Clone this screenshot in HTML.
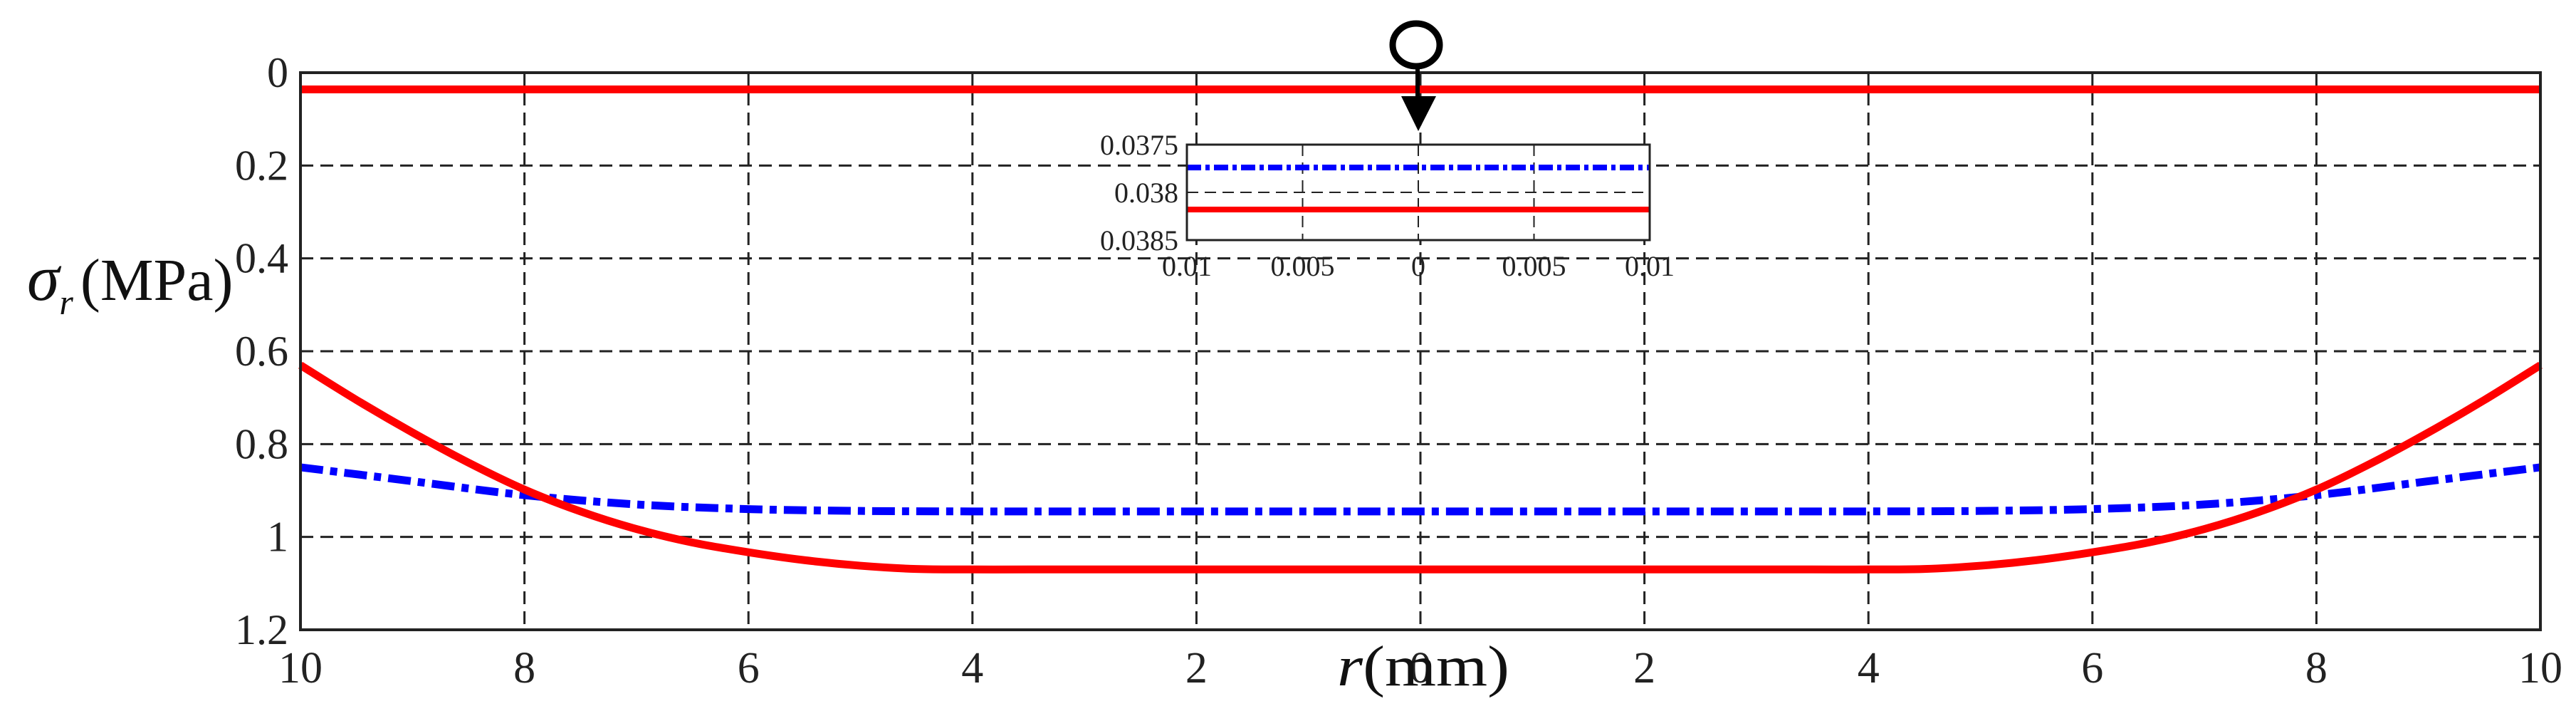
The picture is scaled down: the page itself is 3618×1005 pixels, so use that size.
<!DOCTYPE html>
<html><head><meta charset="utf-8"><style>
html,body{margin:0;padding:0;background:#fff;}
svg{display:block;font-family:"Liberation Serif",serif;}
</style></head><body>
<svg id="chart" width="3618" height="1005" viewBox="0 0 3618 1005" xmlns="http://www.w3.org/2000/svg">
<g id="grid"></g>
<g id="series"></g>
<rect x="422" y="102" width="3146" height="782" fill="none" stroke="#222" stroke-width="4"/>
<g id="ticks"></g>
<text x="38" y="421" font-size="84" fill="#111"><tspan font-style="italic" font-size="92">σ</tspan><tspan font-style="italic" font-size="50" dy="20">r</tspan><tspan dy="-20" dx="10">(MPa)</tspan></text>
<text x="1878" y="962" font-size="80" textLength="242" lengthAdjust="spacingAndGlyphs" fill="#111"><tspan font-style="italic">r</tspan>(mm)</text>
<g>
<ellipse cx="1989" cy="63" rx="33" ry="30" fill="none" stroke="#000" stroke-width="9"/>
<line x1="1991" y1="93" x2="1991" y2="140" stroke="#000" stroke-width="6"/>
<polygon points="1968,135 2017,135 1992,184" fill="#000"/>
</g>
<g id="inset"></g>
</svg>
<script>
const NS="http://www.w3.org/2000/svg";
const xTicks=[-10,-8,-6,-4,-2,0,2,4,6,8,10];
const xTickLabels=["10","8","6","4","2","0","2","4","6","8","10"];
const yTicks=[0,0.2,0.4,0.6,0.8,1,1.2];
const yTickLabels=["0","0.2","0.4","0.6","0.8","1","1.2"];
const redR=[0,0.5,1,1.5,2,2.5,3,3.5,4,4.5,5,5.5,6,6.5,7,7.5,8,8.5,9,9.5,10];
const redV=[1.07,1.07,1.07,1.07,1.07,1.07,1.07,1.07,1.07,1.069,1.062,1.05,1.033,1.012,0.983,0.945,0.898,0.84,0.775,0.705,0.63];
const blueR=[0,1,2,3,4,5,6,7,8,9,10];
const blueV=[0.945,0.945,0.945,0.945,0.945,0.944,0.94,0.93,0.91,0.88,0.85];
const topRedV=0.036;
const insetXTicks=[-0.01,-0.005,0,0.005,0.01];
const insetXLabels=["0.01","0.005","0","0.005","0.01"];
const insetYTicks=[0.0375,0.038,0.0385];
const insetYLabels=["0.0375","0.038","0.0385"];
const insetBlue=0.03774, insetRed=0.03818;

const X0=422,X1=3568,Y0=102,Y1=884;
const sx=v=>X0+(v+10)/20*(X1-X0);
const sy=v=>Y0+v/1.2*(Y1-Y0);
function mk(tag,attrs,parent){const e=document.createElementNS(NS,tag);for(const k in attrs)e.setAttribute(k,attrs[k]);parent.appendChild(e);return e;}
const grid=document.getElementById('grid'),ticks=document.getElementById('ticks'),series=document.getElementById('series');
xTicks.forEach((t,i)=>{
 if(i>0&&i<xTicks.length-1){const l=mk('line',{x1:sx(t),x2:sx(t),y1:Y0,y2:Y1,stroke:'#222','stroke-width':3,'stroke-dasharray':'18,10'},grid);
 
 }
 const tx=mk('text',{x:sx(t),y:958,'font-size':62,'text-anchor':'middle',fill:'#222'},ticks);tx.textContent=xTickLabels[i];
 
 
});
yTicks.forEach((t,i)=>{
 if(i>0&&i<yTicks.length-1){const l=mk('line',{x1:X0,x2:X1,y1:sy(t),y2:sy(t),stroke:'#222','stroke-width':3,'stroke-dasharray':'18,10'},grid);
 
 }
 const tx=mk('text',{x:405,y:sy(t)+20,'font-size':60,'text-anchor':'end',fill:'#222'},ticks);tx.textContent=yTickLabels[i];
 
 
});
function sym(R,V){const pts=[];for(let i=R.length-1;i>=0;i--)pts.push([-R[i],V[i]]);for(let i=1;i<R.length;i++)pts.push([R[i],V[i]]);return pts;}
function smoothPath(pts){let d='M'+sx(pts[0][0])+','+sy(pts[0][1]);for(let i=0;i<pts.length-1;i++){const p0=pts[Math.max(i-1,0)],p1=pts[i],p2=pts[i+1],p3=pts[Math.min(i+2,pts.length-1)];
 const a=[sx(p1[0])+(sx(p2[0])-sx(p0[0]))/6,sy(p1[1])+(sy(p2[1])-sy(p0[1]))/6],b=[sx(p2[0])-(sx(p3[0])-sx(p1[0]))/6,sy(p2[1])-(sy(p3[1])-sy(p1[1]))/6];
 d+=' C'+a[0]+','+a[1]+' '+b[0]+','+b[1]+' '+sx(p2[0])+','+sy(p2[1]);}return d;}
const blue=mk('path',{d:smoothPath(sym(blueR,blueV)),fill:'none',stroke:'#0000ff','stroke-width':11,'stroke-dasharray':'32,10,10,10'},series);


const red=mk('path',{d:smoothPath(sym(redR,redV)),fill:'none',stroke:'#ff0000','stroke-width':11,'stroke-linejoin':'round'},series);


const topRed=mk('line',{x1:X0,x2:X1,y1:sy(topRedV),y2:sy(topRedV),stroke:'#ff0000','stroke-width':11},series);



// inset
const inset=document.getElementById('inset');
const IX0=1667,IX1=2317,IY0=203,IY1=337;
const ix=v=>IX0+(v+0.01)/0.02*(IX1-IX0);
const iy=v=>IY0+(v-0.0375)/0.001*(IY1-IY0);
mk('rect',{x:IX0,y:IY0,width:IX1-IX0,height:IY1-IY0,fill:'#fff',stroke:'none'},inset);
insetXTicks.forEach((t,i)=>{
 if(i>0&&i<insetXTicks.length-1){const l=mk('line',{x1:ix(t),x2:ix(t),y1:IY0,y2:IY1,stroke:'#222','stroke-width':2,'stroke-dasharray':'16,9'},inset);
 
 }
 const tx=mk('text',{x:ix(t),y:387,'font-size':40,'text-anchor':'middle',fill:'#222'},inset);tx.textContent=insetXLabels[i];
 
 
});
insetYTicks.forEach((t,i)=>{
 if(i>0&&i<insetYTicks.length-1){const l=mk('line',{x1:IX0,x2:IX1,y1:iy(t),y2:iy(t),stroke:'#222','stroke-width':2,'stroke-dasharray':'16,9'},inset);
 
 }
 const tx=mk('text',{x:1655,y:iy(t)+14,'font-size':40,'text-anchor':'end',fill:'#222'},inset);tx.textContent=insetYLabels[i];
 
 
});
const ib=mk('line',{x1:IX0,x2:IX1,y1:iy(insetBlue),y2:iy(insetBlue),stroke:'#0000ff','stroke-width':8,'stroke-dasharray':'20,6,6,6'},inset);


const ir=mk('line',{x1:IX0,x2:IX1,y1:iy(insetRed),y2:iy(insetRed),stroke:'#ff0000','stroke-width':8},inset);


const fr=mk('rect',{x:IX0,y:IY0,width:IX1-IX0,height:IY1-IY0,fill:'none',stroke:'#222','stroke-width':3},inset);


</script>
</body></html>
